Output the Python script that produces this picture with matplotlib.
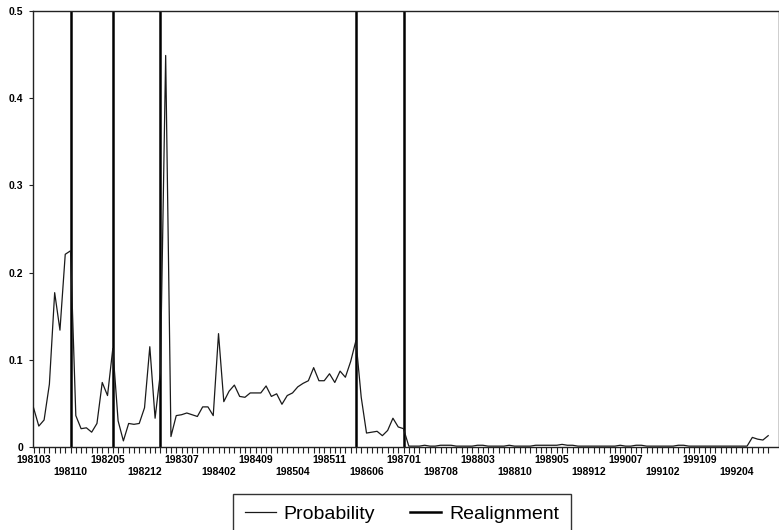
import matplotlib
matplotlib.use("Agg")
import matplotlib.pyplot as plt
import numpy as np
import pandas as pd
from matplotlib.lines import Line2D

# ---- data ----
start_month = "1981-03"
probability = [
    0.045, 0.024, 0.031, 0.072, 0.177, 0.134, 0.221, 0.225,            # 198103-198110
    0.036, 0.021, 0.022, 0.017, 0.027, 0.074, 0.059, 0.113,            # 198111-198206
    0.030, 0.007, 0.027, 0.026, 0.027, 0.045, 0.115, 0.033, 0.085,     # 198207-198303
    0.449, 0.012, 0.036, 0.037, 0.039, 0.037, 0.035, 0.046, 0.046,     # 198304-198312
    0.036, 0.130, 0.052, 0.064, 0.071, 0.058, 0.057, 0.062, 0.062,     # 198401-198409
    0.062, 0.070, 0.058, 0.061, 0.049, 0.059, 0.062, 0.069, 0.073,     # 198410-198506
    0.076, 0.091, 0.076, 0.076, 0.084, 0.074, 0.087, 0.080, 0.098,     # 198507-198603
    0.122, 0.057, 0.016, 0.017, 0.018, 0.013, 0.019, 0.033, 0.023,     # 198604-198612
    0.021, 0.001, 0.001, 0.001, 0.002, 0.001, 0.001, 0.002, 0.002,     # 198701-198709
    0.002, 0.001, 0.001, 0.001, 0.001, 0.002, 0.002, 0.001, 0.001,     # 198710-198806
    0.001, 0.001, 0.002, 0.001, 0.001, 0.001, 0.001, 0.002, 0.002,     # 198807-198903
    0.002, 0.002, 0.002, 0.003, 0.002, 0.002, 0.001, 0.001, 0.001,     # 198904-198912
    0.001, 0.001, 0.001, 0.001, 0.001, 0.002, 0.001, 0.001, 0.002,     # 199001-199009
    0.002, 0.001, 0.001, 0.001, 0.001, 0.001, 0.001, 0.002, 0.002,     # 199010-199106
    0.001, 0.001, 0.001, 0.001, 0.001, 0.001, 0.001, 0.001, 0.001,     # 199107-199203
    0.001, 0.001, 0.001, 0.011, 0.009, 0.008, 0.013,                   # 199204-199210
]
realignment_months = ["198110", "198206", "198303", "198604", "198701"]
realignment_level = 0.5
label_every = 7

months = pd.period_range(start_month, periods=len(probability), freq="M")
month_codes = [m.strftime("%Y%m") for m in months]
x = np.arange(len(probability))
realign_x = [month_codes.index(m) for m in realignment_months]

# ---- figure ----
fig = plt.figure(figsize=(7.79, 5.30), dpi=100)
ax = fig.add_axes([33 / 779, 1 - 447 / 530, 1 - 33 / 779 - 0.0008, (447 - 11) / 530])

ax.plot(x, probability, color="#1a1a1a", lw=0.9, zorder=3)
ax.vlines(realign_x, 0, realignment_level, color="black", lw=1.8, zorder=2)

ax.set_ylim(0, 0.5)
ax.set_xlim(-0.1, (779 - 33.5) / 5.29)
ax.set_yticks([0, 0.1, 0.2, 0.3, 0.4, 0.5])
ax.set_yticklabels(["0", "0.1", "0.2", "0.3", "0.4", "0.5"])

ax.set_xticks(x, minor=True)
major = x[::label_every]
ax.set_xticks(major)
labels = []
for k, i in enumerate(major):
    labels.append(month_codes[i] if k % 2 == 0 else "\n" + month_codes[i])
ax.set_xticklabels(labels, linespacing=1.3)

for lab in ax.get_xticklabels() + ax.get_yticklabels():
    lab.set_fontfamily("Liberation Sans")
    lab.set_fontweight("bold")
    lab.set_fontsize(7.5)

ax.tick_params(axis="x", which="both", direction="out", length=4.5, width=0.8, pad=1, color="#222")
ax.tick_params(axis="y", direction="out", length=3, width=0.8, pad=4, color="#222")
for s in ["left", "bottom", "top"]:
    ax.spines[s].set_linewidth(1.0)
    ax.spines[s].set_color("#222")
ax.spines["right"].set_linewidth(0.5)
ax.spines["right"].set_color("#bbbbbb")

handles = [Line2D([], [], color="#1a1a1a", lw=0.9),
           Line2D([], [], color="black", lw=1.8)]
leg = fig.legend(handles, ["Probability", "Realignment"], ncol=2,
                 loc="upper center", bbox_to_anchor=(402 / 779, 1 - 494 / 530),
                 prop=dict(family="Liberation Sans", size=14),
                 frameon=True, fancybox=False, edgecolor="black",
                 handlelength=1.6, handletextpad=0.4, columnspacing=1.8,
                 borderpad=0.6, borderaxespad=0)
leg.get_frame().set_linewidth(1.0)

fig.savefig("out.png", dpi=100)
